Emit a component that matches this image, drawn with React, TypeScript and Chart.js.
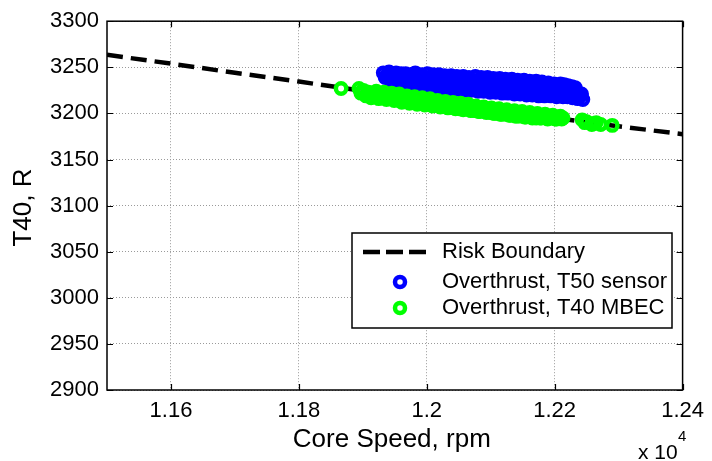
import React, { useEffect, useRef } from 'react';
import { Chart, registerables } from 'chart.js';
Chart.register(...registerables);

const riskX = [11500, 11600, 11700, 11800, 11900, 12000, 12100, 12200, 12300, 12400];
const riskY = [3263.5, 3254, 3244, 3234.5, 3224.5, 3214.5, 3204.5, 3195, 3186, 3177.5];

const blueX = [
  11932, 11941, 11952, 11967, 11982, 12001, 12019, 12038, 12057, 12076, 12095, 12114, 12133, 12152, 12171, 12190, 12209, 12221, 12232,
  11946, 11960, 11975, 11992, 12010, 12028, 12047, 12066, 12085, 12104, 12123, 12142, 12161, 12180, 12199, 12215, 12227,
  11937, 11948, 11959, 11974, 11989, 12008, 12027, 12046, 12065, 12084, 12103, 12122, 12141, 12160, 12179, 12198, 12217, 12236,
  11935, 11946, 11957, 11965, 11976, 11987, 11995, 12006, 12014, 12025, 12033, 12044, 12052, 12063, 12071, 12082, 12090, 12101, 12109, 12120, 12128, 12139, 12147, 12158, 12166, 12177, 12185, 12196, 12204, 12215, 12223, 12234, 12242,
  11963, 11978, 11993, 12012, 12031, 12050, 12069, 12088, 12107, 12126, 12145, 12164, 12183, 12202, 12221, 12240,
  11950, 11962, 11977, 11995, 12013, 12032, 12051, 12070, 12089, 12108, 12127, 12146, 12165, 12184, 12203, 12220, 12236,
  11944, 11955, 11970, 11985, 12004, 12023, 12042, 12061, 12080, 12099, 12118, 12137, 12156, 12175, 12194, 12213, 12228, 12244];
const blueY = [
  3244, 3245, 3244, 3243, 3244, 3243, 3242, 3241, 3240, 3240, 3239, 3238, 3237, 3236, 3235, 3233, 3232, 3230, 3228,
  3243, 3243, 3242, 3242, 3242, 3241, 3240, 3239, 3239, 3238, 3237, 3236, 3235, 3234, 3232, 3231, 3229,
  3241, 3239, 3240, 3238, 3237, 3236, 3235, 3234, 3233, 3232, 3231, 3230, 3229, 3228, 3227, 3226, 3225, 3223,
  3239, 3243, 3238, 3240, 3237, 3239, 3236, 3238, 3235, 3237, 3234, 3236, 3233, 3235, 3232, 3234, 3231, 3233, 3230, 3232, 3229, 3231, 3228, 3230, 3227, 3229, 3226, 3228, 3225, 3227, 3224, 3223, 3221,
  3236, 3234, 3233, 3232, 3231, 3230, 3229, 3228, 3227, 3226, 3225, 3224, 3223, 3222, 3221, 3219,
  3234, 3232, 3230, 3229, 3228, 3227, 3226, 3225, 3224, 3223, 3222, 3221, 3220, 3219, 3218, 3218, 3216,
  3236, 3233, 3231, 3229, 3228, 3227, 3226, 3225, 3224, 3223, 3222, 3221, 3220, 3219, 3219, 3218, 3217, 3215];

const greenX = [11866, 11894, 11897, 11901, 11905, 11909, 11913, 11917, 11921, 11925, 11929, 11933, 11937, 11941, 11945, 11949, 11953, 11957, 11961, 11965, 11969, 11973, 11977, 11981, 11985, 11989, 11993, 11997, 12001, 12005, 12009, 12013, 12017, 12021, 12025, 12029, 12033, 12037, 12041, 12045, 12049, 12053, 12057, 12061, 12065, 12069, 12073, 12077, 12081, 12085, 12089, 12093, 12097, 12101, 12105, 12109, 12113, 12117, 12121, 12125, 12129, 12133, 12137, 12141, 12145, 12149, 12153, 12157, 12161, 12165, 12169, 12173, 12177, 12181, 12185, 12189, 12193, 12197, 12201, 12205, 12209, 12213, 12243, 12250, 12258, 12265, 12272, 12290,
  11899, 11907, 11915, 11923, 11931, 11939, 11947, 11955, 11963, 11971, 11979, 11987, 11995, 12003, 12011, 12019, 12027, 12035, 12043, 12051, 12059, 12067, 12075, 12083, 12091, 12099, 12107, 12115, 12123, 12131, 12139, 12147, 12155, 12163, 12171, 12179, 12187, 12195, 12203, 12211, 12247, 12262];
const greenY = [3227, 3227, 3222, 3225, 3219, 3223, 3217, 3221, 3224, 3216, 3220, 3223, 3215, 3219, 3222, 3214, 3218, 3221, 3212, 3216, 3219, 3211, 3215, 3218, 3210, 3214, 3217, 3209, 3213, 3216, 3208, 3212, 3214, 3207, 3211, 3213, 3206, 3210, 3212, 3205, 3209, 3211, 3204, 3207, 3210, 3203, 3206, 3208, 3202, 3205, 3207, 3201, 3204, 3206, 3200, 3203, 3205, 3199, 3202, 3204, 3198, 3201, 3203, 3197, 3200, 3202, 3196, 3199, 3201, 3195, 3198, 3200, 3195, 3197, 3199, 3194, 3197, 3198, 3194, 3196, 3197, 3195, 3193, 3191, 3188, 3190, 3188, 3187,
  3224, 3221, 3219, 3220, 3217, 3218, 3216, 3215, 3214, 3213, 3212, 3211, 3211, 3210, 3209, 3208, 3208, 3207, 3206, 3205, 3205, 3204, 3203, 3202, 3202, 3201, 3200, 3199, 3199, 3198, 3197, 3197, 3196, 3196, 3195, 3195, 3195, 3195, 3194, 3194, 3190, 3189];

const xTickValues = [11600, 11800, 12000, 12200, 12400];
const xTickLabels = ['1.16', '1.18', '1.2', '1.22', '1.24'];
const yTickValues = [2900, 2950, 3000, 3050, 3100, 3150, 3200, 3250, 3300];

const seriesNames = ['Risk Boundary', 'Overthrust, T50 sensor', 'Overthrust, T40 MBEC'];
const xTitle = 'Core Speed, rpm';
const yTitle = 'T40, R';

const FONT = "'Liberation Sans', Arial, Helvetica, sans-serif";

const extrasPlugin = {
  id: 'extras',
  afterDraw(chart: any) {
    const ctx = chart.ctx;
    const { left, right, top, bottom } = chart.chartArea;
    const xs = chart.scales.x;
    const ys = chart.scales.y;
    ctx.save();
    ctx.strokeStyle = '#000';
    ctx.lineWidth = 1.5;
    ctx.setLineDash([]);
    ctx.strokeRect(left, top, right - left, bottom - top);
    ctx.lineWidth = 1.2;
    ctx.beginPath();
    xTickValues.forEach((v) => {
      const px = Math.round(xs.getPixelForValue(v)) + 0.5;
      ctx.moveTo(px, bottom); ctx.lineTo(px, bottom - 6);
      ctx.moveTo(px, top); ctx.lineTo(px, top + 6);
    });
    yTickValues.forEach((v) => {
      const py = Math.round(ys.getPixelForValue(v)) + 0.5;
      ctx.moveTo(left, py); ctx.lineTo(left + 6, py);
      ctx.moveTo(right, py); ctx.lineTo(right - 6, py);
    });
    ctx.stroke();

    ctx.fillStyle = '#000';
    ctx.textAlign = 'center';
    ctx.textBaseline = 'middle';
    ctx.font = `26px ${FONT}`;
    ctx.fillText(xTitle, (left + right) / 2 - 3, 440);
    ctx.save();
    ctx.translate(24, (top + bottom) / 2 + 2);
    ctx.rotate(-Math.PI / 2);
    ctx.fillText(yTitle, 0, 0);
    ctx.restore();

    ctx.textAlign = 'left';
    ctx.font = `21px ${FONT}`;
    ctx.fillText('x 10', 638, 453);
    ctx.font = `15px ${FONT}`;
    ctx.fillText('4', 678, 437);

    const lx = 352, ly = 233, lw = 320, lh = 95;
    ctx.fillStyle = '#fff';
    ctx.fillRect(lx, ly, lw, lh);
    ctx.strokeStyle = '#000';
    ctx.lineWidth = 1.5;
    ctx.strokeRect(lx, ly, lw, lh);
    const rows = [252, 282, 308];
    ctx.lineWidth = 4.5;
    ctx.setLineDash([17, 6]);
    ctx.beginPath();
    ctx.moveTo(363, rows[0]);
    ctx.lineTo(427, rows[0]);
    ctx.stroke();
    ctx.setLineDash([]);
    ctx.lineWidth = 4.5;
    ctx.strokeStyle = '#0000ff';
    ctx.beginPath();
    ctx.arc(400, rows[1], 5, 0, Math.PI * 2);
    ctx.stroke();
    ctx.strokeStyle = '#00ff00';
    ctx.beginPath();
    ctx.arc(400, rows[2], 5, 0, Math.PI * 2);
    ctx.stroke();
    ctx.fillStyle = '#000';
    ctx.font = `22px ${FONT}`;
    ctx.textAlign = 'left';
    seriesNames.forEach((n, i) => ctx.fillText(n, 442, rows[i]));
    ctx.restore();
  },
};

export default function App() {
  const ref = useRef<HTMLCanvasElement>(null);
  useEffect(() => {
    const canvas = ref.current;
    if (!canvas) return;
    const mk = (xsArr: number[], ysArr: number[]) => xsArr.map((x, i) => ({ x, y: ysArr[i] }));
    const chart = new Chart(canvas, {
      type: 'scatter',
      data: {
        datasets: [
          {
            label: seriesNames[0],
            type: 'line',
            data: mk(riskX, riskY),
            borderColor: '#000',
            borderWidth: 4.5,
            borderDash: [16, 8],
            pointRadius: 0,
            fill: false,
            showLine: true,
            order: 3,
          } as any,
          {
            label: seriesNames[1],
            data: mk(blueX, blueY),
            borderColor: '#0000ff',
            backgroundColor: 'rgba(0,0,0,0)',
            borderWidth: 4.5,
            pointRadius: 5.2,
            order: 2,
          },
          {
            label: seriesNames[2],
            data: mk(greenX, greenY),
            borderColor: '#00ff00',
            backgroundColor: 'rgba(0,0,0,0)',
            borderWidth: 4.5,
            pointRadius: 5.2,
            order: 1,
          },
        ],
      },
      options: {
        responsive: false,
        animation: false,
        events: [],
        layout: { padding: { left: 0, top: 18, right: 24, bottom: 0 } },
        plugins: { legend: { display: false }, tooltip: { enabled: false } },
        scales: {
          x: {
            type: 'linear',
            min: 11500,
            max: 12400,
            afterBuildTicks: (axis: any) => {
              axis.ticks = xTickValues.map((v) => ({ value: v }));
            },
            afterFit: (scale: any) => {
              scale.height = 71;
            },
            ticks: {
              callback: (v: any) => {
                const i = xTickValues.indexOf(Number(v));
                return i >= 0 ? xTickLabels[i] : '';
              },
              color: '#000',
              font: { family: FONT, size: 22 },
              padding: 8,
              maxRotation: 0,
              autoSkip: false,
            },
            grid: { color: '#9a9a9a', lineWidth: 1, drawTicks: false },
            border: { display: false, dash: [1, 2] },
          },
          y: {
            type: 'linear',
            min: 2900,
            max: 3300,
            afterBuildTicks: (axis: any) => {
              axis.ticks = yTickValues.map((v) => ({ value: v }));
            },
            afterFit: (scale: any) => {
              scale.width = 107;
            },
            ticks: {
              callback: (v: any) => String(v),
              color: '#000',
              font: { family: FONT, size: 22 },
              padding: 8,
              autoSkip: false,
            },
            grid: { color: '#9a9a9a', lineWidth: 1, drawTicks: false },
            border: { display: false, dash: [1, 2] },
          },
        },
      },
      plugins: [extrasPlugin],
    });
    return () => chart.destroy();
  }, []);
  return (
    <div style={{ position: 'absolute', left: 0, top: 0, width: 712, height: 461, background: '#fff' }}>
      <canvas ref={ref} width={712} height={461} style={{ display: 'block' }} />
    </div>
  );
}
